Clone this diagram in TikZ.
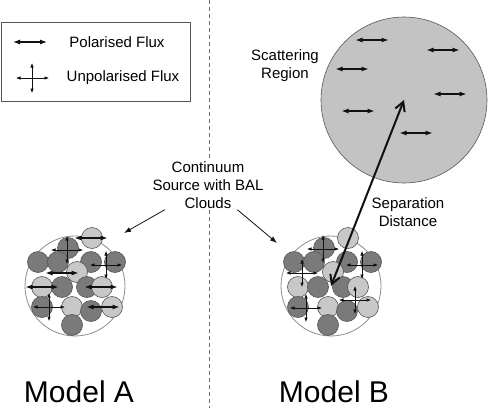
\documentclass[tikz,border=0pt]{standalone}
\usepackage{fontspec}
\setmainfont{Liberation Sans}
\usetikzlibrary{arrows.meta}
\definecolor{ink}{HTML}{111111}
\definecolor{rim}{HTML}{555555}
\definecolor{envline}{HTML}{8C8C8C}
\definecolor{cloudd}{HTML}{7A7A7A}
\definecolor{cloudl}{HTML}{C8C8C8}
\definecolor{scatfill}{HTML}{C3C3C3}
\definecolor{divider}{HTML}{707070}

\begin{document}
\begin{tikzpicture}[
  x=1pt,y=-1pt,
  font=\fontsize{15}{18}\selectfont,
  txt/.style={align=center,inner sep=1pt},
  big/.style={font=\fontsize{30}{36}\selectfont,inner sep=0pt},
  pol/.style={{Latex[length=7pt,width=5pt]}-{Latex[length=7pt,width=5pt]},line width=1.1pt,draw=ink},
  unpol/.style={{Latex[length=4.5pt,width=3.5pt]}-{Latex[length=4.5pt,width=3.5pt]},line width=0.6pt,draw=ink},
  call/.style={-{Latex[length=7pt,width=5pt]},line width=0.8pt,draw=ink},
  sep/.style={{Straight Barb[length=9pt,width=10pt]}-{Straight Barb[length=9pt,width=10pt]},line width=2pt,draw=ink},
  bal/.style={circle,draw=rim,line width=0.6pt,minimum size=21pt,inner sep=0pt},
  env/.style={circle,draw=envline,line width=0.8pt,minimum size=100pt,inner sep=0pt}
]
\useasboundingbox (0,0) rectangle (488,410);

% dividing line between the two models
\draw[divider,line width=0.6pt,dash pattern=on 4pt off 3pt] (209,0) -- (209,408);

% legend
\node[draw=rim,line width=0.8pt,minimum width=189pt,minimum height=79pt,inner sep=0pt] (legend) at (95.5,61.5) {};
\draw[pol] (13,42) -- (47,42);
\draw[unpol] (16,78) -- (49,78);
\draw[unpol] (32,63) -- (32,93);
\node[txt] (pollbl) at (117,42) {Polarised Flux};
\node[txt] (unpollbl) at (123,78) {Unpolarised Flux};

% continuum source with BAL clouds, both models
\foreach \dx/\nm in {0/A,256/B} {
  \node[env] (cl\nm) at (75+\dx,286) {};
  \foreach \x/\y/\c [count=\i] in {92/238/cloudl,68/248/cloudd,38/262/cloudd,58/262/cloudd,
      91/262/cloudd,115/262/cloudd,77/272/cloudl,42/287/cloudl,62/287/cloudd,87/287/cloudd,
      102/287/cloudl,42/307/cloudd,72/307/cloudl,91/311/cloudd,112/307/cloudl,72/325/cloudd}
    \node[bal,fill=\c] (b\nm\i) at (\x+\dx,\y) {};
}

% model A: polarised and unpolarised flux from the source
\foreach \x/\y in {91/238,62/273,42/287,101/287,103/307}
  \draw[pol] (\x-16.5,\y) -- (\x+16.5,\y);
\foreach \x/\y in {67/250,106/265,49/307} {
  \draw[unpol] (\x-16,\y) -- (\x+16,\y);
  \draw[unpol] (\x,\y-14) -- (\x,\y+14);
}

% model B: unpolarised flux only
\foreach \x/\y in {323/249,302/273,362/265,355/300,306/308} {
  \draw[unpol] (\x-16,\y) -- (\x+16,\y);
  \draw[unpol] (\x,\y-14) -- (\x,\y+14);
}

% scattering region
\node[circle,draw=rim,line width=0.6pt,fill=scatfill,minimum size=166pt,inner sep=0pt] (scat) at (404,100) {};
\foreach \x/\y in {372/40,443/50,352/69,450/94,358/111,416/133}
  \draw[pol] (\x-16.5,\y) -- (\x+16.5,\y);
\node[txt] (scatlbl) at (285,66) {Scattering\\Region};

% separation
\draw[sep] (clB.center) -- (scat.center);
\node[txt] (seplbl) at (408,212) {Separation\\Distance};

% source label
\node[txt,fill=white] (src) at (208,185) {Continuum\\Source with BAL\\Clouds};
\coordinate (tipA) at (124,233);
\coordinate (tipB) at (277,243);
\draw[call] (src) -- (tipA);
\draw[call] (src) -- (tipB);

% model names
\node[big] (modA) at (79,392) {Model A};
\node[big] (modB) at (334,392) {Model B};
\end{tikzpicture}
\end{document}
